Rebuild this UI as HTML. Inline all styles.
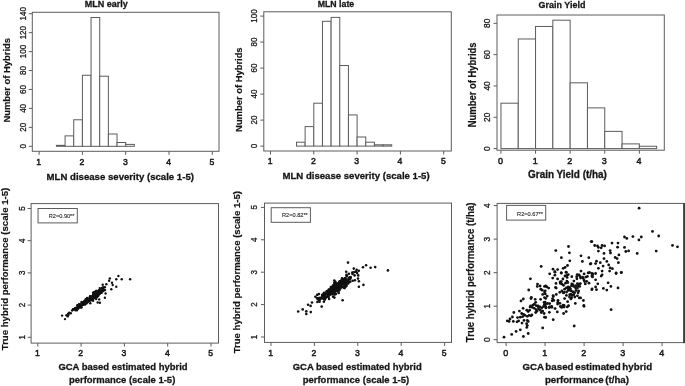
<!DOCTYPE html>
<html><head><meta charset="utf-8"><style>
html,body{margin:0;padding:0;background:#fff;}
svg{display:block;font-family:"Liberation Sans",sans-serif;filter:blur(0.3px);}
</style></head><body>
<svg width="685" height="386" viewBox="0 0 685 386">
<rect width="685" height="386" fill="#fff"/>
<rect x="32.30" y="12.30" width="186.70" height="139.00" fill="none" stroke="#5c5c5c" stroke-width="1"/>
<line x1="39.10" y1="151.30" x2="39.10" y2="154.80" stroke="#5c5c5c" stroke-width="1"/>
<text x="38.70" y="164.94" font-size="9.6" font-weight="normal" text-anchor="middle" fill="#161616" textLength="4.80" lengthAdjust="spacingAndGlyphs" stroke="#161616" stroke-width="0.5">1</text>
<line x1="82.40" y1="151.30" x2="82.40" y2="154.80" stroke="#5c5c5c" stroke-width="1"/>
<text x="82.00" y="164.94" font-size="9.6" font-weight="normal" text-anchor="middle" fill="#161616" textLength="4.80" lengthAdjust="spacingAndGlyphs" stroke="#161616" stroke-width="0.5">2</text>
<line x1="125.70" y1="151.30" x2="125.70" y2="154.80" stroke="#5c5c5c" stroke-width="1"/>
<text x="125.30" y="164.94" font-size="9.6" font-weight="normal" text-anchor="middle" fill="#161616" textLength="4.80" lengthAdjust="spacingAndGlyphs" stroke="#161616" stroke-width="0.5">3</text>
<line x1="169.00" y1="151.30" x2="169.00" y2="154.80" stroke="#5c5c5c" stroke-width="1"/>
<text x="168.60" y="164.94" font-size="9.6" font-weight="normal" text-anchor="middle" fill="#161616" textLength="4.80" lengthAdjust="spacingAndGlyphs" stroke="#161616" stroke-width="0.5">4</text>
<line x1="212.30" y1="151.30" x2="212.30" y2="154.80" stroke="#5c5c5c" stroke-width="1"/>
<text x="211.90" y="164.94" font-size="9.6" font-weight="normal" text-anchor="middle" fill="#161616" textLength="4.80" lengthAdjust="spacingAndGlyphs" stroke="#161616" stroke-width="0.5">5</text>
<line x1="28.80" y1="146.30" x2="32.30" y2="146.30" stroke="#5c5c5c" stroke-width="1"/>
<text x="0" y="3.26" font-size="9.1" font-weight="normal" text-anchor="middle" fill="#161616" textLength="4.45" lengthAdjust="spacingAndGlyphs" stroke="#161616" stroke-width="0.3" transform="translate(22.50 146.30) rotate(-90)">0</text>
<line x1="28.80" y1="127.36" x2="32.30" y2="127.36" stroke="#5c5c5c" stroke-width="1"/>
<text x="0" y="3.26" font-size="9.1" font-weight="normal" text-anchor="middle" fill="#161616" textLength="8.90" lengthAdjust="spacingAndGlyphs" stroke="#161616" stroke-width="0.3" transform="translate(22.50 127.36) rotate(-90)">20</text>
<line x1="28.80" y1="108.42" x2="32.30" y2="108.42" stroke="#5c5c5c" stroke-width="1"/>
<text x="0" y="3.26" font-size="9.1" font-weight="normal" text-anchor="middle" fill="#161616" textLength="8.90" lengthAdjust="spacingAndGlyphs" stroke="#161616" stroke-width="0.3" transform="translate(22.50 108.42) rotate(-90)">40</text>
<line x1="28.80" y1="89.48" x2="32.30" y2="89.48" stroke="#5c5c5c" stroke-width="1"/>
<text x="0" y="3.26" font-size="9.1" font-weight="normal" text-anchor="middle" fill="#161616" textLength="8.90" lengthAdjust="spacingAndGlyphs" stroke="#161616" stroke-width="0.3" transform="translate(22.50 89.48) rotate(-90)">60</text>
<line x1="28.80" y1="70.54" x2="32.30" y2="70.54" stroke="#5c5c5c" stroke-width="1"/>
<text x="0" y="3.26" font-size="9.1" font-weight="normal" text-anchor="middle" fill="#161616" textLength="8.90" lengthAdjust="spacingAndGlyphs" stroke="#161616" stroke-width="0.3" transform="translate(22.50 70.54) rotate(-90)">80</text>
<line x1="28.80" y1="51.60" x2="32.30" y2="51.60" stroke="#5c5c5c" stroke-width="1"/>
<text x="0" y="3.26" font-size="9.1" font-weight="normal" text-anchor="middle" fill="#161616" textLength="13.36" lengthAdjust="spacingAndGlyphs" stroke="#161616" stroke-width="0.3" transform="translate(22.50 51.60) rotate(-90)">100</text>
<line x1="28.80" y1="32.66" x2="32.30" y2="32.66" stroke="#5c5c5c" stroke-width="1"/>
<text x="0" y="3.26" font-size="9.1" font-weight="normal" text-anchor="middle" fill="#161616" textLength="13.36" lengthAdjust="spacingAndGlyphs" stroke="#161616" stroke-width="0.3" transform="translate(22.50 32.66) rotate(-90)">120</text>
<line x1="28.80" y1="13.72" x2="32.30" y2="13.72" stroke="#5c5c5c" stroke-width="1"/>
<text x="0" y="3.26" font-size="9.1" font-weight="normal" text-anchor="middle" fill="#161616" textLength="13.36" lengthAdjust="spacingAndGlyphs" stroke="#161616" stroke-width="0.3" transform="translate(22.50 13.72) rotate(-90)">140</text>
<rect x="56.42" y="145.35" width="8.66" height="0.95" fill="#fff" stroke="#5c5c5c" stroke-width="1"/>
<rect x="65.08" y="135.88" width="8.66" height="10.42" fill="#fff" stroke="#5c5c5c" stroke-width="1"/>
<rect x="73.74" y="119.78" width="8.66" height="26.52" fill="#fff" stroke="#5c5c5c" stroke-width="1"/>
<rect x="82.40" y="75.28" width="8.66" height="71.02" fill="#fff" stroke="#5c5c5c" stroke-width="1"/>
<rect x="91.06" y="17.51" width="8.66" height="128.79" fill="#fff" stroke="#5c5c5c" stroke-width="1"/>
<rect x="99.72" y="76.22" width="8.66" height="70.08" fill="#fff" stroke="#5c5c5c" stroke-width="1"/>
<rect x="108.38" y="133.99" width="8.66" height="12.31" fill="#fff" stroke="#5c5c5c" stroke-width="1"/>
<rect x="117.04" y="142.51" width="8.66" height="3.79" fill="#fff" stroke="#5c5c5c" stroke-width="1"/>
<rect x="125.70" y="144.41" width="8.66" height="1.89" fill="#fff" stroke="#5c5c5c" stroke-width="1"/>
<text x="106.35" y="7.12" font-size="9.555" font-weight="bold" text-anchor="middle" fill="#161616" textLength="43.10" lengthAdjust="spacingAndGlyphs" stroke="#161616" stroke-width="0.3">MLN early</text>
<text x="120.25" y="179.57" font-size="9.975" font-weight="bold" text-anchor="middle" fill="#161616" textLength="147.40" lengthAdjust="spacingAndGlyphs" stroke="#161616" stroke-width="0.3">MLN disease severity (scale 1-5)</text>
<text x="0" y="3.40" font-size="9.5" font-weight="bold" text-anchor="middle" fill="#161616" textLength="84.60" lengthAdjust="spacingAndGlyphs" stroke="#161616" stroke-width="0.2" transform="translate(6.90 80.30) rotate(-90)">Number of Hybrids</text>
<rect x="263.80" y="11.80" width="187.50" height="139.20" fill="none" stroke="#5c5c5c" stroke-width="1"/>
<line x1="270.50" y1="151.00" x2="270.50" y2="154.50" stroke="#5c5c5c" stroke-width="1"/>
<text x="270.10" y="164.44" font-size="9.6" font-weight="normal" text-anchor="middle" fill="#161616" textLength="4.80" lengthAdjust="spacingAndGlyphs" stroke="#161616" stroke-width="0.5">1</text>
<line x1="313.80" y1="151.00" x2="313.80" y2="154.50" stroke="#5c5c5c" stroke-width="1"/>
<text x="313.40" y="164.44" font-size="9.6" font-weight="normal" text-anchor="middle" fill="#161616" textLength="4.80" lengthAdjust="spacingAndGlyphs" stroke="#161616" stroke-width="0.5">2</text>
<line x1="357.10" y1="151.00" x2="357.10" y2="154.50" stroke="#5c5c5c" stroke-width="1"/>
<text x="356.70" y="164.44" font-size="9.6" font-weight="normal" text-anchor="middle" fill="#161616" textLength="4.80" lengthAdjust="spacingAndGlyphs" stroke="#161616" stroke-width="0.5">3</text>
<line x1="400.40" y1="151.00" x2="400.40" y2="154.50" stroke="#5c5c5c" stroke-width="1"/>
<text x="400.00" y="164.44" font-size="9.6" font-weight="normal" text-anchor="middle" fill="#161616" textLength="4.80" lengthAdjust="spacingAndGlyphs" stroke="#161616" stroke-width="0.5">4</text>
<line x1="443.70" y1="151.00" x2="443.70" y2="154.50" stroke="#5c5c5c" stroke-width="1"/>
<text x="443.30" y="164.44" font-size="9.6" font-weight="normal" text-anchor="middle" fill="#161616" textLength="4.80" lengthAdjust="spacingAndGlyphs" stroke="#161616" stroke-width="0.5">5</text>
<line x1="260.30" y1="146.10" x2="263.80" y2="146.10" stroke="#5c5c5c" stroke-width="1"/>
<text x="0" y="3.26" font-size="9.1" font-weight="normal" text-anchor="middle" fill="#161616" textLength="4.45" lengthAdjust="spacingAndGlyphs" stroke="#161616" stroke-width="0.3" transform="translate(253.30 146.10) rotate(-90)">0</text>
<line x1="260.30" y1="120.10" x2="263.80" y2="120.10" stroke="#5c5c5c" stroke-width="1"/>
<text x="0" y="3.26" font-size="9.1" font-weight="normal" text-anchor="middle" fill="#161616" textLength="8.90" lengthAdjust="spacingAndGlyphs" stroke="#161616" stroke-width="0.3" transform="translate(253.30 120.10) rotate(-90)">20</text>
<line x1="260.30" y1="94.10" x2="263.80" y2="94.10" stroke="#5c5c5c" stroke-width="1"/>
<text x="0" y="3.26" font-size="9.1" font-weight="normal" text-anchor="middle" fill="#161616" textLength="8.90" lengthAdjust="spacingAndGlyphs" stroke="#161616" stroke-width="0.3" transform="translate(253.30 94.10) rotate(-90)">40</text>
<line x1="260.30" y1="68.10" x2="263.80" y2="68.10" stroke="#5c5c5c" stroke-width="1"/>
<text x="0" y="3.26" font-size="9.1" font-weight="normal" text-anchor="middle" fill="#161616" textLength="8.90" lengthAdjust="spacingAndGlyphs" stroke="#161616" stroke-width="0.3" transform="translate(253.30 68.10) rotate(-90)">60</text>
<line x1="260.30" y1="42.10" x2="263.80" y2="42.10" stroke="#5c5c5c" stroke-width="1"/>
<text x="0" y="3.26" font-size="9.1" font-weight="normal" text-anchor="middle" fill="#161616" textLength="8.90" lengthAdjust="spacingAndGlyphs" stroke="#161616" stroke-width="0.3" transform="translate(253.30 42.10) rotate(-90)">80</text>
<line x1="260.30" y1="16.10" x2="263.80" y2="16.10" stroke="#5c5c5c" stroke-width="1"/>
<text x="0" y="3.26" font-size="9.1" font-weight="normal" text-anchor="middle" fill="#161616" textLength="13.36" lengthAdjust="spacingAndGlyphs" stroke="#161616" stroke-width="0.3" transform="translate(253.30 16.10) rotate(-90)">100</text>
<rect x="296.48" y="142.20" width="8.66" height="3.90" fill="#fff" stroke="#5c5c5c" stroke-width="1"/>
<rect x="305.14" y="126.60" width="8.66" height="19.50" fill="#fff" stroke="#5c5c5c" stroke-width="1"/>
<rect x="313.80" y="103.20" width="8.66" height="42.90" fill="#fff" stroke="#5c5c5c" stroke-width="1"/>
<rect x="322.46" y="21.30" width="8.66" height="124.80" fill="#fff" stroke="#5c5c5c" stroke-width="1"/>
<rect x="331.12" y="17.40" width="8.66" height="128.70" fill="#fff" stroke="#5c5c5c" stroke-width="1"/>
<rect x="339.78" y="65.50" width="8.66" height="80.60" fill="#fff" stroke="#5c5c5c" stroke-width="1"/>
<rect x="348.44" y="114.90" width="8.66" height="31.20" fill="#fff" stroke="#5c5c5c" stroke-width="1"/>
<rect x="357.10" y="137.00" width="8.66" height="9.10" fill="#fff" stroke="#5c5c5c" stroke-width="1"/>
<rect x="365.76" y="142.20" width="8.66" height="3.90" fill="#fff" stroke="#5c5c5c" stroke-width="1"/>
<rect x="374.42" y="144.80" width="8.66" height="1.30" fill="#fff" stroke="#5c5c5c" stroke-width="1"/>
<rect x="383.08" y="144.80" width="8.66" height="1.30" fill="#fff" stroke="#5c5c5c" stroke-width="1"/>
<text x="335.95" y="7.42" font-size="9.555" font-weight="bold" text-anchor="middle" fill="#161616" textLength="36.50" lengthAdjust="spacingAndGlyphs" stroke="#161616" stroke-width="0.3">MLN late</text>
<text x="356.05" y="178.87" font-size="9.975" font-weight="bold" text-anchor="middle" fill="#161616" textLength="147.10" lengthAdjust="spacingAndGlyphs" stroke="#161616" stroke-width="0.3">MLN disease severity (scale 1-5)</text>
<text x="0" y="3.40" font-size="9.5" font-weight="bold" text-anchor="middle" fill="#161616" textLength="84.50" lengthAdjust="spacingAndGlyphs" stroke="#161616" stroke-width="0.2" transform="translate(238.90 89.65) rotate(-90)">Number of Hybrids</text>
<rect x="497.00" y="15.00" width="167.30" height="135.20" fill="none" stroke="#5c5c5c" stroke-width="1"/>
<line x1="500.95" y1="150.20" x2="500.95" y2="153.70" stroke="#5c5c5c" stroke-width="1"/>
<text x="500.55" y="163.97" font-size="9.984" font-weight="normal" text-anchor="middle" fill="#161616" textLength="5.00" lengthAdjust="spacingAndGlyphs" stroke="#161616" stroke-width="0.5">0</text>
<line x1="535.55" y1="150.20" x2="535.55" y2="153.70" stroke="#5c5c5c" stroke-width="1"/>
<text x="535.15" y="163.97" font-size="9.984" font-weight="normal" text-anchor="middle" fill="#161616" textLength="5.00" lengthAdjust="spacingAndGlyphs" stroke="#161616" stroke-width="0.5">1</text>
<line x1="570.15" y1="150.20" x2="570.15" y2="153.70" stroke="#5c5c5c" stroke-width="1"/>
<text x="569.75" y="163.97" font-size="9.984" font-weight="normal" text-anchor="middle" fill="#161616" textLength="5.00" lengthAdjust="spacingAndGlyphs" stroke="#161616" stroke-width="0.5">2</text>
<line x1="604.75" y1="150.20" x2="604.75" y2="153.70" stroke="#5c5c5c" stroke-width="1"/>
<text x="604.35" y="163.97" font-size="9.984" font-weight="normal" text-anchor="middle" fill="#161616" textLength="5.00" lengthAdjust="spacingAndGlyphs" stroke="#161616" stroke-width="0.5">3</text>
<line x1="639.35" y1="150.20" x2="639.35" y2="153.70" stroke="#5c5c5c" stroke-width="1"/>
<text x="638.95" y="163.97" font-size="9.984" font-weight="normal" text-anchor="middle" fill="#161616" textLength="5.00" lengthAdjust="spacingAndGlyphs" stroke="#161616" stroke-width="0.5">4</text>
<line x1="493.50" y1="148.60" x2="497.00" y2="148.60" stroke="#5c5c5c" stroke-width="1"/>
<text x="0" y="3.39" font-size="9.464" font-weight="normal" text-anchor="middle" fill="#161616" textLength="4.63" lengthAdjust="spacingAndGlyphs" stroke="#161616" stroke-width="0.3" transform="translate(486.70 148.60) rotate(-90)">0</text>
<line x1="493.50" y1="117.28" x2="497.00" y2="117.28" stroke="#5c5c5c" stroke-width="1"/>
<text x="0" y="3.39" font-size="9.464" font-weight="normal" text-anchor="middle" fill="#161616" textLength="9.26" lengthAdjust="spacingAndGlyphs" stroke="#161616" stroke-width="0.3" transform="translate(486.70 117.28) rotate(-90)">20</text>
<line x1="493.50" y1="85.96" x2="497.00" y2="85.96" stroke="#5c5c5c" stroke-width="1"/>
<text x="0" y="3.39" font-size="9.464" font-weight="normal" text-anchor="middle" fill="#161616" textLength="9.26" lengthAdjust="spacingAndGlyphs" stroke="#161616" stroke-width="0.3" transform="translate(486.70 85.96) rotate(-90)">40</text>
<line x1="493.50" y1="54.64" x2="497.00" y2="54.64" stroke="#5c5c5c" stroke-width="1"/>
<text x="0" y="3.39" font-size="9.464" font-weight="normal" text-anchor="middle" fill="#161616" textLength="9.26" lengthAdjust="spacingAndGlyphs" stroke="#161616" stroke-width="0.3" transform="translate(486.70 54.64) rotate(-90)">60</text>
<line x1="493.50" y1="23.32" x2="497.00" y2="23.32" stroke="#5c5c5c" stroke-width="1"/>
<text x="0" y="3.39" font-size="9.464" font-weight="normal" text-anchor="middle" fill="#161616" textLength="9.26" lengthAdjust="spacingAndGlyphs" stroke="#161616" stroke-width="0.3" transform="translate(486.70 23.32) rotate(-90)">80</text>
<rect x="500.95" y="103.19" width="17.30" height="45.41" fill="#fff" stroke="#5c5c5c" stroke-width="1"/>
<rect x="518.25" y="38.98" width="17.30" height="109.62" fill="#fff" stroke="#5c5c5c" stroke-width="1"/>
<rect x="535.55" y="26.45" width="17.30" height="122.15" fill="#fff" stroke="#5c5c5c" stroke-width="1"/>
<rect x="552.85" y="20.19" width="17.30" height="128.41" fill="#fff" stroke="#5c5c5c" stroke-width="1"/>
<rect x="570.15" y="82.83" width="17.30" height="65.77" fill="#fff" stroke="#5c5c5c" stroke-width="1"/>
<rect x="587.45" y="107.88" width="17.30" height="40.72" fill="#fff" stroke="#5c5c5c" stroke-width="1"/>
<rect x="604.75" y="131.37" width="17.30" height="17.23" fill="#fff" stroke="#5c5c5c" stroke-width="1"/>
<rect x="622.05" y="143.90" width="17.30" height="4.70" fill="#fff" stroke="#5c5c5c" stroke-width="1"/>
<rect x="639.35" y="146.25" width="17.30" height="2.35" fill="#fff" stroke="#5c5c5c" stroke-width="1"/>
<text x="562.05" y="8.13" font-size="9.870000000000001" font-weight="bold" text-anchor="middle" fill="#161616" textLength="46.90" lengthAdjust="spacingAndGlyphs" stroke="#161616" stroke-width="0.3">Grain Yield</text>
<text x="567.50" y="177.92" font-size="10.395000000000001" font-weight="bold" text-anchor="middle" fill="#161616" textLength="78.80" lengthAdjust="spacingAndGlyphs" stroke="#161616" stroke-width="0.3">Grain Yield (t/ha)</text>
<text x="0" y="3.72" font-size="10.4" font-weight="bold" text-anchor="middle" fill="#161616" textLength="84.80" lengthAdjust="spacingAndGlyphs" stroke="#161616" stroke-width="0.2" transform="translate(472.00 84.80) rotate(-90)">Number of Hybrids</text>
<rect x="31.10" y="203.60" width="187.40" height="139.50" fill="none" stroke="#5c5c5c" stroke-width="1"/>
<line x1="37.80" y1="343.10" x2="37.80" y2="346.60" stroke="#5c5c5c" stroke-width="1"/>
<text x="37.40" y="356.44" font-size="9.6" font-weight="normal" text-anchor="middle" fill="#161616" textLength="4.80" lengthAdjust="spacingAndGlyphs" stroke="#161616" stroke-width="0.5">1</text>
<line x1="81.10" y1="343.10" x2="81.10" y2="346.60" stroke="#5c5c5c" stroke-width="1"/>
<text x="80.70" y="356.44" font-size="9.6" font-weight="normal" text-anchor="middle" fill="#161616" textLength="4.80" lengthAdjust="spacingAndGlyphs" stroke="#161616" stroke-width="0.5">2</text>
<line x1="124.40" y1="343.10" x2="124.40" y2="346.60" stroke="#5c5c5c" stroke-width="1"/>
<text x="124.00" y="356.44" font-size="9.6" font-weight="normal" text-anchor="middle" fill="#161616" textLength="4.80" lengthAdjust="spacingAndGlyphs" stroke="#161616" stroke-width="0.5">3</text>
<line x1="167.70" y1="343.10" x2="167.70" y2="346.60" stroke="#5c5c5c" stroke-width="1"/>
<text x="167.30" y="356.44" font-size="9.6" font-weight="normal" text-anchor="middle" fill="#161616" textLength="4.80" lengthAdjust="spacingAndGlyphs" stroke="#161616" stroke-width="0.5">4</text>
<line x1="211.00" y1="343.10" x2="211.00" y2="346.60" stroke="#5c5c5c" stroke-width="1"/>
<text x="210.60" y="356.44" font-size="9.6" font-weight="normal" text-anchor="middle" fill="#161616" textLength="4.80" lengthAdjust="spacingAndGlyphs" stroke="#161616" stroke-width="0.5">5</text>
<line x1="27.60" y1="337.30" x2="31.10" y2="337.30" stroke="#5c5c5c" stroke-width="1"/>
<text x="0" y="3.26" font-size="9.1" font-weight="normal" text-anchor="middle" fill="#161616" textLength="4.45" lengthAdjust="spacingAndGlyphs" stroke="#161616" stroke-width="0.3" transform="translate(21.30 337.30) rotate(-90)">1</text>
<line x1="27.60" y1="305.10" x2="31.10" y2="305.10" stroke="#5c5c5c" stroke-width="1"/>
<text x="0" y="3.26" font-size="9.1" font-weight="normal" text-anchor="middle" fill="#161616" textLength="4.45" lengthAdjust="spacingAndGlyphs" stroke="#161616" stroke-width="0.3" transform="translate(21.30 305.10) rotate(-90)">2</text>
<line x1="27.60" y1="272.90" x2="31.10" y2="272.90" stroke="#5c5c5c" stroke-width="1"/>
<text x="0" y="3.26" font-size="9.1" font-weight="normal" text-anchor="middle" fill="#161616" textLength="4.45" lengthAdjust="spacingAndGlyphs" stroke="#161616" stroke-width="0.3" transform="translate(21.30 272.90) rotate(-90)">3</text>
<line x1="27.60" y1="240.70" x2="31.10" y2="240.70" stroke="#5c5c5c" stroke-width="1"/>
<text x="0" y="3.26" font-size="9.1" font-weight="normal" text-anchor="middle" fill="#161616" textLength="4.45" lengthAdjust="spacingAndGlyphs" stroke="#161616" stroke-width="0.3" transform="translate(21.30 240.70) rotate(-90)">4</text>
<line x1="27.60" y1="208.50" x2="31.10" y2="208.50" stroke="#5c5c5c" stroke-width="1"/>
<text x="0" y="3.26" font-size="9.1" font-weight="normal" text-anchor="middle" fill="#161616" textLength="4.45" lengthAdjust="spacingAndGlyphs" stroke="#161616" stroke-width="0.3" transform="translate(21.30 208.50) rotate(-90)">5</text>
<clipPath id="c1"><rect x="31.1" y="203.6" width="187.4" height="139.50000000000003"/></clipPath><g clip-path="url(#c1)" fill="#111">
<circle cx="78.1" cy="307.7" r="1.2"/>
<circle cx="97.0" cy="293.3" r="1.2"/>
<circle cx="77.2" cy="307.7" r="1.2"/>
<circle cx="92.6" cy="298.6" r="1.2"/>
<circle cx="78.2" cy="305.3" r="1.2"/>
<circle cx="94.5" cy="296.4" r="1.2"/>
<circle cx="101.5" cy="292.1" r="1.2"/>
<circle cx="87.6" cy="300.1" r="1.2"/>
<circle cx="86.0" cy="300.5" r="1.2"/>
<circle cx="78.8" cy="306.8" r="1.2"/>
<circle cx="89.7" cy="298.6" r="1.2"/>
<circle cx="88.0" cy="300.7" r="1.2"/>
<circle cx="94.4" cy="297.3" r="1.2"/>
<circle cx="90.3" cy="296.1" r="1.2"/>
<circle cx="94.5" cy="293.7" r="1.2"/>
<circle cx="87.0" cy="298.9" r="1.2"/>
<circle cx="88.5" cy="298.8" r="1.2"/>
<circle cx="90.3" cy="303.2" r="1.2"/>
<circle cx="88.1" cy="301.4" r="1.2"/>
<circle cx="77.3" cy="307.4" r="1.2"/>
<circle cx="94.1" cy="295.8" r="1.2"/>
<circle cx="91.6" cy="297.8" r="1.2"/>
<circle cx="79.9" cy="306.7" r="1.2"/>
<circle cx="81.6" cy="307.4" r="1.2"/>
<circle cx="84.2" cy="303.9" r="1.2"/>
<circle cx="88.5" cy="301.2" r="1.2"/>
<circle cx="83.4" cy="304.9" r="1.2"/>
<circle cx="87.4" cy="302.4" r="1.2"/>
<circle cx="93.8" cy="296.4" r="1.2"/>
<circle cx="81.9" cy="305.6" r="1.2"/>
<circle cx="92.5" cy="299.4" r="1.2"/>
<circle cx="85.3" cy="302.9" r="1.2"/>
<circle cx="92.8" cy="297.3" r="1.2"/>
<circle cx="90.3" cy="298.9" r="1.2"/>
<circle cx="83.4" cy="302.0" r="1.2"/>
<circle cx="85.1" cy="303.1" r="1.2"/>
<circle cx="101.3" cy="292.3" r="1.2"/>
<circle cx="97.5" cy="294.7" r="1.2"/>
<circle cx="94.4" cy="296.0" r="1.2"/>
<circle cx="95.1" cy="297.8" r="1.2"/>
<circle cx="85.7" cy="300.9" r="1.2"/>
<circle cx="90.6" cy="299.8" r="1.2"/>
<circle cx="95.9" cy="293.1" r="1.2"/>
<circle cx="103.6" cy="289.6" r="1.2"/>
<circle cx="94.9" cy="295.6" r="1.2"/>
<circle cx="81.0" cy="305.0" r="1.2"/>
<circle cx="91.7" cy="299.2" r="1.2"/>
<circle cx="94.5" cy="295.8" r="1.2"/>
<circle cx="100.0" cy="290.8" r="1.2"/>
<circle cx="95.2" cy="296.7" r="1.2"/>
<circle cx="86.0" cy="299.1" r="1.2"/>
<circle cx="80.8" cy="305.6" r="1.2"/>
<circle cx="93.0" cy="298.9" r="1.2"/>
<circle cx="80.0" cy="305.9" r="1.2"/>
<circle cx="94.0" cy="295.8" r="1.2"/>
<circle cx="68.4" cy="315.1" r="1.2"/>
<circle cx="97.0" cy="292.6" r="1.2"/>
<circle cx="85.0" cy="302.7" r="1.2"/>
<circle cx="93.7" cy="296.4" r="1.2"/>
<circle cx="101.7" cy="290.5" r="1.2"/>
<circle cx="82.7" cy="303.3" r="1.2"/>
<circle cx="94.6" cy="297.6" r="1.2"/>
<circle cx="94.1" cy="296.4" r="1.2"/>
<circle cx="73.0" cy="309.7" r="1.2"/>
<circle cx="83.3" cy="302.8" r="1.2"/>
<circle cx="93.5" cy="295.9" r="1.2"/>
<circle cx="95.2" cy="295.3" r="1.2"/>
<circle cx="85.7" cy="302.0" r="1.2"/>
<circle cx="92.1" cy="298.6" r="1.2"/>
<circle cx="84.4" cy="302.4" r="1.2"/>
<circle cx="76.9" cy="310.3" r="1.2"/>
<circle cx="100.8" cy="291.0" r="1.2"/>
<circle cx="84.4" cy="301.0" r="1.2"/>
<circle cx="89.9" cy="299.2" r="1.2"/>
<circle cx="90.6" cy="297.3" r="1.2"/>
<circle cx="67.7" cy="316.4" r="1.2"/>
<circle cx="90.1" cy="296.5" r="1.2"/>
<circle cx="90.0" cy="296.6" r="1.2"/>
<circle cx="98.0" cy="294.0" r="1.2"/>
<circle cx="87.0" cy="297.9" r="1.2"/>
<circle cx="87.4" cy="298.5" r="1.2"/>
<circle cx="93.6" cy="293.4" r="1.2"/>
<circle cx="80.8" cy="307.0" r="1.2"/>
<circle cx="102.5" cy="288.5" r="1.2"/>
<circle cx="75.5" cy="310.3" r="1.2"/>
<circle cx="95.8" cy="293.4" r="1.2"/>
<circle cx="82.6" cy="303.1" r="1.2"/>
<circle cx="78.4" cy="306.0" r="1.2"/>
<circle cx="99.1" cy="293.4" r="1.2"/>
<circle cx="87.8" cy="300.2" r="1.2"/>
<circle cx="80.1" cy="305.6" r="1.2"/>
<circle cx="77.3" cy="305.2" r="1.2"/>
<circle cx="94.4" cy="297.8" r="1.2"/>
<circle cx="95.6" cy="296.8" r="1.2"/>
<circle cx="90.6" cy="297.4" r="1.2"/>
<circle cx="89.2" cy="298.9" r="1.2"/>
<circle cx="79.1" cy="304.1" r="1.2"/>
<circle cx="75.9" cy="308.7" r="1.2"/>
<circle cx="89.8" cy="298.3" r="1.2"/>
<circle cx="100.6" cy="291.6" r="1.2"/>
<circle cx="93.5" cy="298.1" r="1.2"/>
<circle cx="81.5" cy="302.0" r="1.2"/>
<circle cx="94.9" cy="294.5" r="1.2"/>
<circle cx="99.6" cy="292.6" r="1.2"/>
<circle cx="97.1" cy="295.0" r="1.2"/>
<circle cx="70.8" cy="313.3" r="1.2"/>
<circle cx="82.8" cy="302.8" r="1.2"/>
<circle cx="84.8" cy="303.6" r="1.2"/>
<circle cx="96.0" cy="296.1" r="1.2"/>
<circle cx="74.4" cy="308.9" r="1.2"/>
<circle cx="68.3" cy="313.9" r="1.2"/>
<circle cx="93.6" cy="295.3" r="1.2"/>
<circle cx="90.6" cy="298.8" r="1.2"/>
<circle cx="97.1" cy="292.8" r="1.2"/>
<circle cx="81.5" cy="303.8" r="1.2"/>
<circle cx="103.4" cy="291.0" r="1.2"/>
<circle cx="87.4" cy="301.0" r="1.2"/>
<circle cx="89.5" cy="299.5" r="1.2"/>
<circle cx="86.7" cy="300.7" r="1.2"/>
<circle cx="77.8" cy="306.5" r="1.2"/>
<circle cx="102.5" cy="290.8" r="1.2"/>
<circle cx="89.1" cy="299.2" r="1.2"/>
<circle cx="89.0" cy="300.0" r="1.2"/>
<circle cx="83.0" cy="304.0" r="1.2"/>
<circle cx="90.5" cy="297.4" r="1.2"/>
<circle cx="81.8" cy="303.2" r="1.2"/>
<circle cx="79.5" cy="307.5" r="1.2"/>
<circle cx="68.4" cy="313.6" r="1.2"/>
<circle cx="83.3" cy="302.7" r="1.2"/>
<circle cx="89.3" cy="300.9" r="1.2"/>
<circle cx="89.1" cy="299.2" r="1.2"/>
<circle cx="83.3" cy="303.4" r="1.2"/>
<circle cx="96.3" cy="293.9" r="1.2"/>
<circle cx="78.8" cy="305.0" r="1.2"/>
<circle cx="79.1" cy="304.5" r="1.2"/>
<circle cx="97.8" cy="293.9" r="1.2"/>
<circle cx="86.5" cy="303.4" r="1.2"/>
<circle cx="82.9" cy="304.9" r="1.2"/>
<circle cx="95.3" cy="293.0" r="1.2"/>
<circle cx="75.3" cy="307.9" r="1.2"/>
<circle cx="96.2" cy="296.3" r="1.2"/>
<circle cx="78.1" cy="308.7" r="1.2"/>
<circle cx="85.2" cy="301.6" r="1.2"/>
<circle cx="83.8" cy="302.7" r="1.2"/>
<circle cx="73.0" cy="309.3" r="1.2"/>
<circle cx="78.0" cy="307.9" r="1.2"/>
<circle cx="85.6" cy="299.5" r="1.2"/>
<circle cx="85.0" cy="301.0" r="1.2"/>
<circle cx="93.4" cy="295.5" r="1.2"/>
<circle cx="96.5" cy="295.1" r="1.2"/>
<circle cx="74.7" cy="308.8" r="1.2"/>
<circle cx="86.5" cy="301.4" r="1.2"/>
<circle cx="89.6" cy="298.6" r="1.2"/>
<circle cx="90.1" cy="297.9" r="1.2"/>
<circle cx="80.9" cy="307.4" r="1.2"/>
<circle cx="91.6" cy="298.4" r="1.2"/>
<circle cx="74.9" cy="309.2" r="1.2"/>
<circle cx="95.5" cy="293.2" r="1.2"/>
<circle cx="97.8" cy="292.8" r="1.2"/>
<circle cx="91.9" cy="297.3" r="1.2"/>
<circle cx="90.4" cy="300.3" r="1.2"/>
<circle cx="85.1" cy="304.5" r="1.2"/>
<circle cx="81.9" cy="303.2" r="1.2"/>
<circle cx="94.5" cy="294.2" r="1.2"/>
<circle cx="85.4" cy="303.4" r="1.2"/>
<circle cx="98.8" cy="290.2" r="1.2"/>
<circle cx="92.8" cy="299.5" r="1.2"/>
<circle cx="98.7" cy="292.5" r="1.2"/>
<circle cx="83.4" cy="303.1" r="1.2"/>
<circle cx="78.7" cy="306.4" r="1.2"/>
<circle cx="95.8" cy="294.5" r="1.2"/>
<circle cx="101.0" cy="290.7" r="1.2"/>
<circle cx="91.0" cy="300.3" r="1.2"/>
<circle cx="92.4" cy="296.3" r="1.2"/>
<circle cx="96.0" cy="294.0" r="1.2"/>
<circle cx="92.7" cy="296.5" r="1.2"/>
<circle cx="104.8" cy="287.3" r="1.2"/>
<circle cx="96.0" cy="296.9" r="1.2"/>
<circle cx="99.3" cy="293.8" r="1.2"/>
<circle cx="99.8" cy="288.1" r="1.2"/>
<circle cx="93.2" cy="296.9" r="1.2"/>
<circle cx="98.4" cy="295.6" r="1.2"/>
<circle cx="98.3" cy="292.6" r="1.2"/>
<circle cx="96.6" cy="293.8" r="1.2"/>
<circle cx="97.4" cy="295.0" r="1.2"/>
<circle cx="95.2" cy="293.6" r="1.2"/>
<circle cx="93.3" cy="298.8" r="1.2"/>
<circle cx="101.4" cy="292.9" r="1.2"/>
<circle cx="99.8" cy="293.7" r="1.2"/>
<circle cx="96.5" cy="295.6" r="1.2"/>
<circle cx="92.5" cy="296.7" r="1.2"/>
<circle cx="93.7" cy="297.7" r="1.2"/>
<circle cx="94.3" cy="295.6" r="1.2"/>
<circle cx="98.0" cy="295.9" r="1.2"/>
<circle cx="93.5" cy="294.5" r="1.2"/>
<circle cx="99.6" cy="289.9" r="1.2"/>
<circle cx="98.2" cy="292.0" r="1.2"/>
<circle cx="96.1" cy="290.9" r="1.2"/>
<circle cx="99.2" cy="291.4" r="1.2"/>
<circle cx="93.1" cy="300.8" r="1.2"/>
<circle cx="99.2" cy="299.4" r="1.2"/>
<circle cx="98.0" cy="292.5" r="1.2"/>
<circle cx="96.9" cy="297.2" r="1.2"/>
<circle cx="96.4" cy="295.3" r="1.2"/>
<circle cx="98.5" cy="291.1" r="1.2"/>
<circle cx="97.0" cy="293.0" r="1.2"/>
<circle cx="91.8" cy="299.4" r="1.2"/>
<circle cx="99.0" cy="292.7" r="1.2"/>
<circle cx="93.1" cy="292.7" r="1.2"/>
<circle cx="98.3" cy="292.8" r="1.2"/>
<circle cx="90.1" cy="298.7" r="1.2"/>
<circle cx="90.7" cy="298.3" r="1.2"/>
<circle cx="97.0" cy="294.6" r="1.2"/>
<circle cx="97.3" cy="294.1" r="1.2"/>
<circle cx="92.2" cy="296.6" r="1.2"/>
<circle cx="94.6" cy="295.2" r="1.2"/>
<circle cx="97.5" cy="294.8" r="1.2"/>
<circle cx="102.7" cy="284.8" r="1.2"/>
<circle cx="98.0" cy="292.8" r="1.2"/>
<circle cx="105.1" cy="290.1" r="1.2"/>
<circle cx="90.2" cy="299.5" r="1.2"/>
<circle cx="94.5" cy="297.7" r="1.2"/>
<circle cx="92.5" cy="296.9" r="1.2"/>
<circle cx="96.0" cy="294.5" r="1.2"/>
<circle cx="94.3" cy="292.2" r="1.2"/>
<circle cx="98.2" cy="295.1" r="1.2"/>
<circle cx="96.2" cy="292.4" r="1.2"/>
<circle cx="97.3" cy="294.9" r="1.2"/>
<circle cx="95.8" cy="294.7" r="1.2"/>
<circle cx="101.9" cy="288.3" r="1.2"/>
<circle cx="94.4" cy="292.0" r="1.2"/>
<circle cx="93.8" cy="294.7" r="1.2"/>
<circle cx="92.9" cy="295.5" r="1.2"/>
<circle cx="103.3" cy="289.1" r="1.2"/>
<circle cx="96.1" cy="299.0" r="1.2"/>
<circle cx="96.3" cy="291.0" r="1.2"/>
<circle cx="98.0" cy="291.4" r="1.2"/>
<circle cx="102.7" cy="287.4" r="1.2"/>
<circle cx="94.3" cy="292.6" r="1.2"/>
<circle cx="96.9" cy="292.0" r="1.2"/>
<circle cx="62.1" cy="315.6" r="1.2"/>
<circle cx="65.0" cy="319.1" r="1.2"/>
<circle cx="66.4" cy="315.3" r="1.2"/>
<circle cx="109.8" cy="278.5" r="1.2"/>
<circle cx="118.4" cy="276.0" r="1.2"/>
<circle cx="121.7" cy="279.3" r="1.2"/>
<circle cx="130.1" cy="279.3" r="1.2"/>
<circle cx="116.3" cy="279.3" r="1.2"/>
<circle cx="112.0" cy="282.8" r="1.2"/>
<circle cx="112.7" cy="285.0" r="1.2"/>
<circle cx="116.3" cy="286.8" r="1.2"/>
<circle cx="111.3" cy="289.2" r="1.2"/>
<circle cx="105.6" cy="293.5" r="1.2"/>
<circle cx="104.9" cy="297.8" r="1.2"/>
<circle cx="97.7" cy="302.5" r="1.2"/>
<circle cx="99.9" cy="302.8" r="1.2"/>
<circle cx="109.1" cy="280.7" r="1.2"/>
<circle cx="106.3" cy="284.2" r="1.2"/>
<circle cx="104.1" cy="287.1" r="1.2"/>
<circle cx="69.2" cy="312.7" r="1.2"/>
<circle cx="72.1" cy="310.6" r="1.2"/>
</g>
<rect x="38.05" y="208.50" width="39.25" height="14.40" fill="#fff" stroke="#5c5c5c" stroke-width="1"/>
<text x="61.65" y="218.20" font-size="5.6" font-weight="normal" text-anchor="middle" fill="#2a2a2a" textLength="25.70" lengthAdjust="spacingAndGlyphs" stroke="#2a2a2a" stroke-width="0.12">R2=0.90**</text>
<text x="123.00" y="370.07" font-size="9.975" font-weight="bold" text-anchor="middle" fill="#161616" textLength="129.20" lengthAdjust="spacingAndGlyphs" stroke="#161616" stroke-width="0.3">GCA based estimated hybrid</text>
<text x="122.10" y="382.97" font-size="9.975" font-weight="bold" text-anchor="middle" fill="#161616" textLength="106.40" lengthAdjust="spacingAndGlyphs" stroke="#161616" stroke-width="0.3">performance (scale 1-5)</text>
<text x="0" y="3.40" font-size="9.5" font-weight="bold" text-anchor="middle" fill="#161616" textLength="162.40" lengthAdjust="spacingAndGlyphs" stroke="#161616" stroke-width="0.2" transform="translate(4.50 269.00) rotate(-90)">True hybrid performance (scale 1-5)</text>
<rect x="264.50" y="203.10" width="187.00" height="139.30" fill="none" stroke="#5c5c5c" stroke-width="1"/>
<line x1="271.00" y1="342.40" x2="271.00" y2="345.90" stroke="#5c5c5c" stroke-width="1"/>
<text x="270.60" y="356.04" font-size="9.6" font-weight="normal" text-anchor="middle" fill="#161616" textLength="4.80" lengthAdjust="spacingAndGlyphs" stroke="#161616" stroke-width="0.5">1</text>
<line x1="314.40" y1="342.40" x2="314.40" y2="345.90" stroke="#5c5c5c" stroke-width="1"/>
<text x="314.00" y="356.04" font-size="9.6" font-weight="normal" text-anchor="middle" fill="#161616" textLength="4.80" lengthAdjust="spacingAndGlyphs" stroke="#161616" stroke-width="0.5">2</text>
<line x1="357.80" y1="342.40" x2="357.80" y2="345.90" stroke="#5c5c5c" stroke-width="1"/>
<text x="357.40" y="356.04" font-size="9.6" font-weight="normal" text-anchor="middle" fill="#161616" textLength="4.80" lengthAdjust="spacingAndGlyphs" stroke="#161616" stroke-width="0.5">3</text>
<line x1="401.20" y1="342.40" x2="401.20" y2="345.90" stroke="#5c5c5c" stroke-width="1"/>
<text x="400.80" y="356.04" font-size="9.6" font-weight="normal" text-anchor="middle" fill="#161616" textLength="4.80" lengthAdjust="spacingAndGlyphs" stroke="#161616" stroke-width="0.5">4</text>
<line x1="444.60" y1="342.40" x2="444.60" y2="345.90" stroke="#5c5c5c" stroke-width="1"/>
<text x="444.20" y="356.04" font-size="9.6" font-weight="normal" text-anchor="middle" fill="#161616" textLength="4.80" lengthAdjust="spacingAndGlyphs" stroke="#161616" stroke-width="0.5">5</text>
<line x1="261.00" y1="337.00" x2="264.50" y2="337.00" stroke="#5c5c5c" stroke-width="1"/>
<text x="0" y="3.26" font-size="9.1" font-weight="normal" text-anchor="middle" fill="#161616" textLength="4.45" lengthAdjust="spacingAndGlyphs" stroke="#161616" stroke-width="0.3" transform="translate(253.30 337.00) rotate(-90)">1</text>
<line x1="261.00" y1="304.60" x2="264.50" y2="304.60" stroke="#5c5c5c" stroke-width="1"/>
<text x="0" y="3.26" font-size="9.1" font-weight="normal" text-anchor="middle" fill="#161616" textLength="4.45" lengthAdjust="spacingAndGlyphs" stroke="#161616" stroke-width="0.3" transform="translate(253.30 304.60) rotate(-90)">2</text>
<line x1="261.00" y1="272.20" x2="264.50" y2="272.20" stroke="#5c5c5c" stroke-width="1"/>
<text x="0" y="3.26" font-size="9.1" font-weight="normal" text-anchor="middle" fill="#161616" textLength="4.45" lengthAdjust="spacingAndGlyphs" stroke="#161616" stroke-width="0.3" transform="translate(253.30 272.20) rotate(-90)">3</text>
<line x1="261.00" y1="239.80" x2="264.50" y2="239.80" stroke="#5c5c5c" stroke-width="1"/>
<text x="0" y="3.26" font-size="9.1" font-weight="normal" text-anchor="middle" fill="#161616" textLength="4.45" lengthAdjust="spacingAndGlyphs" stroke="#161616" stroke-width="0.3" transform="translate(253.30 239.80) rotate(-90)">4</text>
<line x1="261.00" y1="207.40" x2="264.50" y2="207.40" stroke="#5c5c5c" stroke-width="1"/>
<text x="0" y="3.26" font-size="9.1" font-weight="normal" text-anchor="middle" fill="#161616" textLength="4.45" lengthAdjust="spacingAndGlyphs" stroke="#161616" stroke-width="0.3" transform="translate(253.30 207.40) rotate(-90)">5</text>
<clipPath id="c2"><rect x="264.5" y="203.1" width="187.0" height="139.29999999999998"/></clipPath><g clip-path="url(#c2)" fill="#111">
<circle cx="335.3" cy="287.2" r="1.3"/>
<circle cx="329.9" cy="294.3" r="1.3"/>
<circle cx="345.4" cy="281.7" r="1.3"/>
<circle cx="327.0" cy="291.2" r="1.3"/>
<circle cx="338.7" cy="293.0" r="1.3"/>
<circle cx="331.4" cy="288.8" r="1.3"/>
<circle cx="329.0" cy="289.7" r="1.3"/>
<circle cx="326.3" cy="293.8" r="1.3"/>
<circle cx="350.3" cy="278.2" r="1.3"/>
<circle cx="330.9" cy="287.0" r="1.3"/>
<circle cx="338.1" cy="286.3" r="1.3"/>
<circle cx="323.7" cy="293.5" r="1.3"/>
<circle cx="335.6" cy="290.9" r="1.3"/>
<circle cx="342.3" cy="284.2" r="1.3"/>
<circle cx="332.8" cy="290.8" r="1.3"/>
<circle cx="335.9" cy="294.0" r="1.3"/>
<circle cx="324.7" cy="294.5" r="1.3"/>
<circle cx="348.7" cy="278.4" r="1.3"/>
<circle cx="350.2" cy="278.1" r="1.3"/>
<circle cx="337.5" cy="285.8" r="1.3"/>
<circle cx="322.2" cy="294.8" r="1.3"/>
<circle cx="358.2" cy="275.4" r="1.3"/>
<circle cx="342.1" cy="286.7" r="1.3"/>
<circle cx="341.7" cy="287.1" r="1.3"/>
<circle cx="333.3" cy="289.0" r="1.3"/>
<circle cx="345.8" cy="280.1" r="1.3"/>
<circle cx="322.7" cy="296.2" r="1.3"/>
<circle cx="330.6" cy="293.0" r="1.3"/>
<circle cx="328.8" cy="289.9" r="1.3"/>
<circle cx="332.7" cy="294.2" r="1.3"/>
<circle cx="335.5" cy="288.6" r="1.3"/>
<circle cx="336.1" cy="288.6" r="1.3"/>
<circle cx="345.3" cy="286.0" r="1.3"/>
<circle cx="319.6" cy="301.8" r="1.3"/>
<circle cx="336.0" cy="286.9" r="1.3"/>
<circle cx="334.3" cy="294.3" r="1.3"/>
<circle cx="345.7" cy="278.0" r="1.3"/>
<circle cx="340.9" cy="286.7" r="1.3"/>
<circle cx="334.7" cy="282.2" r="1.3"/>
<circle cx="332.6" cy="289.6" r="1.3"/>
<circle cx="324.9" cy="299.6" r="1.3"/>
<circle cx="333.6" cy="288.4" r="1.3"/>
<circle cx="333.0" cy="287.7" r="1.3"/>
<circle cx="328.2" cy="293.2" r="1.3"/>
<circle cx="339.1" cy="284.2" r="1.3"/>
<circle cx="335.1" cy="284.5" r="1.3"/>
<circle cx="341.2" cy="282.0" r="1.3"/>
<circle cx="338.1" cy="283.7" r="1.3"/>
<circle cx="330.8" cy="291.8" r="1.3"/>
<circle cx="323.9" cy="301.7" r="1.3"/>
<circle cx="335.6" cy="287.8" r="1.3"/>
<circle cx="328.7" cy="296.7" r="1.3"/>
<circle cx="349.9" cy="279.5" r="1.3"/>
<circle cx="322.3" cy="295.8" r="1.3"/>
<circle cx="342.2" cy="282.1" r="1.3"/>
<circle cx="324.2" cy="292.9" r="1.3"/>
<circle cx="328.3" cy="293.0" r="1.3"/>
<circle cx="329.5" cy="292.2" r="1.3"/>
<circle cx="353.7" cy="272.3" r="1.3"/>
<circle cx="339.4" cy="285.8" r="1.3"/>
<circle cx="334.6" cy="291.6" r="1.3"/>
<circle cx="332.7" cy="289.2" r="1.3"/>
<circle cx="332.3" cy="290.0" r="1.3"/>
<circle cx="348.9" cy="281.8" r="1.3"/>
<circle cx="322.6" cy="295.8" r="1.3"/>
<circle cx="328.0" cy="295.2" r="1.3"/>
<circle cx="338.2" cy="288.9" r="1.3"/>
<circle cx="335.4" cy="282.9" r="1.3"/>
<circle cx="340.5" cy="285.5" r="1.3"/>
<circle cx="341.1" cy="280.5" r="1.3"/>
<circle cx="336.8" cy="285.3" r="1.3"/>
<circle cx="329.1" cy="293.3" r="1.3"/>
<circle cx="339.5" cy="282.8" r="1.3"/>
<circle cx="318.9" cy="294.0" r="1.3"/>
<circle cx="330.2" cy="294.6" r="1.3"/>
<circle cx="335.4" cy="281.9" r="1.3"/>
<circle cx="327.4" cy="294.6" r="1.3"/>
<circle cx="352.7" cy="280.7" r="1.3"/>
<circle cx="339.7" cy="285.9" r="1.3"/>
<circle cx="325.4" cy="293.8" r="1.3"/>
<circle cx="332.7" cy="288.0" r="1.3"/>
<circle cx="336.6" cy="286.3" r="1.3"/>
<circle cx="339.4" cy="289.8" r="1.3"/>
<circle cx="343.4" cy="284.1" r="1.3"/>
<circle cx="333.6" cy="285.3" r="1.3"/>
<circle cx="334.9" cy="290.1" r="1.3"/>
<circle cx="325.9" cy="297.6" r="1.3"/>
<circle cx="332.7" cy="291.0" r="1.3"/>
<circle cx="332.7" cy="286.6" r="1.3"/>
<circle cx="356.7" cy="269.7" r="1.3"/>
<circle cx="345.2" cy="279.9" r="1.3"/>
<circle cx="338.8" cy="283.6" r="1.3"/>
<circle cx="331.8" cy="293.0" r="1.3"/>
<circle cx="355.5" cy="271.7" r="1.3"/>
<circle cx="336.1" cy="290.4" r="1.3"/>
<circle cx="329.7" cy="293.9" r="1.3"/>
<circle cx="328.2" cy="294.6" r="1.3"/>
<circle cx="340.4" cy="288.5" r="1.3"/>
<circle cx="339.6" cy="281.8" r="1.3"/>
<circle cx="342.6" cy="279.9" r="1.3"/>
<circle cx="343.5" cy="287.5" r="1.3"/>
<circle cx="342.0" cy="282.1" r="1.3"/>
<circle cx="347.9" cy="280.4" r="1.3"/>
<circle cx="323.5" cy="295.3" r="1.3"/>
<circle cx="350.2" cy="277.3" r="1.3"/>
<circle cx="337.2" cy="286.0" r="1.3"/>
<circle cx="319.1" cy="298.0" r="1.3"/>
<circle cx="339.6" cy="286.0" r="1.3"/>
<circle cx="334.3" cy="283.1" r="1.3"/>
<circle cx="348.2" cy="282.0" r="1.3"/>
<circle cx="346.2" cy="285.1" r="1.3"/>
<circle cx="331.6" cy="289.2" r="1.3"/>
<circle cx="339.1" cy="290.6" r="1.3"/>
<circle cx="319.1" cy="298.6" r="1.3"/>
<circle cx="328.8" cy="294.0" r="1.3"/>
<circle cx="350.6" cy="277.0" r="1.3"/>
<circle cx="323.6" cy="296.2" r="1.3"/>
<circle cx="333.1" cy="285.5" r="1.3"/>
<circle cx="344.8" cy="280.2" r="1.3"/>
<circle cx="342.8" cy="279.2" r="1.3"/>
<circle cx="347.0" cy="275.8" r="1.3"/>
<circle cx="346.5" cy="274.9" r="1.3"/>
<circle cx="349.8" cy="277.3" r="1.3"/>
<circle cx="320.4" cy="297.7" r="1.3"/>
<circle cx="339.4" cy="282.6" r="1.3"/>
<circle cx="331.1" cy="291.8" r="1.3"/>
<circle cx="334.3" cy="280.5" r="1.3"/>
<circle cx="331.7" cy="291.8" r="1.3"/>
<circle cx="339.0" cy="288.8" r="1.3"/>
<circle cx="329.1" cy="298.9" r="1.3"/>
<circle cx="344.0" cy="283.4" r="1.3"/>
<circle cx="346.9" cy="283.6" r="1.3"/>
<circle cx="337.0" cy="285.3" r="1.3"/>
<circle cx="346.2" cy="282.3" r="1.3"/>
<circle cx="317.1" cy="298.2" r="1.3"/>
<circle cx="340.7" cy="285.0" r="1.3"/>
<circle cx="338.8" cy="287.8" r="1.3"/>
<circle cx="337.5" cy="291.4" r="1.3"/>
<circle cx="330.1" cy="290.7" r="1.3"/>
<circle cx="339.2" cy="287.8" r="1.3"/>
<circle cx="343.9" cy="287.2" r="1.3"/>
<circle cx="331.2" cy="294.1" r="1.3"/>
<circle cx="340.7" cy="281.5" r="1.3"/>
<circle cx="334.6" cy="294.5" r="1.3"/>
<circle cx="343.9" cy="281.1" r="1.3"/>
<circle cx="312.0" cy="302.5" r="1.3"/>
<circle cx="329.0" cy="292.7" r="1.3"/>
<circle cx="343.5" cy="283.8" r="1.3"/>
<circle cx="326.7" cy="291.2" r="1.3"/>
<circle cx="333.9" cy="287.9" r="1.3"/>
<circle cx="332.0" cy="288.9" r="1.3"/>
<circle cx="347.3" cy="280.5" r="1.3"/>
<circle cx="323.7" cy="299.1" r="1.3"/>
<circle cx="332.9" cy="286.3" r="1.3"/>
<circle cx="339.2" cy="287.1" r="1.3"/>
<circle cx="332.6" cy="291.9" r="1.3"/>
<circle cx="344.2" cy="279.5" r="1.3"/>
<circle cx="315.4" cy="296.8" r="1.3"/>
<circle cx="334.7" cy="292.1" r="1.3"/>
<circle cx="346.0" cy="285.6" r="1.3"/>
<circle cx="354.6" cy="275.4" r="1.3"/>
<circle cx="346.6" cy="275.8" r="1.3"/>
<circle cx="342.9" cy="284.4" r="1.3"/>
<circle cx="335.1" cy="287.2" r="1.3"/>
<circle cx="324.8" cy="295.6" r="1.3"/>
<circle cx="348.8" cy="278.0" r="1.3"/>
<circle cx="341.3" cy="282.2" r="1.3"/>
<circle cx="338.5" cy="283.2" r="1.3"/>
<circle cx="339.8" cy="284.6" r="1.3"/>
<circle cx="339.2" cy="283.9" r="1.3"/>
<circle cx="324.2" cy="294.9" r="1.3"/>
<circle cx="346.4" cy="286.0" r="1.3"/>
<circle cx="332.8" cy="292.1" r="1.3"/>
<circle cx="343.6" cy="283.9" r="1.3"/>
<circle cx="320.5" cy="298.9" r="1.3"/>
<circle cx="326.3" cy="297.2" r="1.3"/>
<circle cx="343.9" cy="284.5" r="1.3"/>
<circle cx="310.6" cy="305.9" r="1.3"/>
<circle cx="343.0" cy="279.2" r="1.3"/>
<circle cx="345.7" cy="281.5" r="1.3"/>
<circle cx="334.2" cy="287.1" r="1.3"/>
<circle cx="325.8" cy="293.6" r="1.3"/>
<circle cx="338.0" cy="287.0" r="1.3"/>
<circle cx="329.5" cy="290.6" r="1.3"/>
<circle cx="330.5" cy="289.2" r="1.3"/>
<circle cx="344.8" cy="281.1" r="1.3"/>
<circle cx="344.7" cy="278.3" r="1.3"/>
<circle cx="345.3" cy="281.5" r="1.3"/>
<circle cx="342.7" cy="283.0" r="1.3"/>
<circle cx="327.1" cy="296.7" r="1.3"/>
<circle cx="331.6" cy="290.3" r="1.3"/>
<circle cx="327.1" cy="294.2" r="1.3"/>
<circle cx="332.1" cy="291.2" r="1.3"/>
<circle cx="339.4" cy="283.5" r="1.3"/>
<circle cx="321.9" cy="298.2" r="1.3"/>
<circle cx="345.2" cy="283.9" r="1.3"/>
<circle cx="324.5" cy="296.9" r="1.3"/>
<circle cx="339.8" cy="286.1" r="1.3"/>
<circle cx="340.3" cy="284.0" r="1.3"/>
<circle cx="338.1" cy="289.1" r="1.3"/>
<circle cx="331.0" cy="287.4" r="1.3"/>
<circle cx="335.0" cy="289.0" r="1.3"/>
<circle cx="317.6" cy="298.8" r="1.3"/>
<circle cx="341.9" cy="283.4" r="1.3"/>
<circle cx="336.9" cy="283.6" r="1.3"/>
<circle cx="345.1" cy="287.3" r="1.3"/>
<circle cx="334.0" cy="287.1" r="1.3"/>
<circle cx="324.4" cy="297.7" r="1.3"/>
<circle cx="337.0" cy="284.8" r="1.3"/>
<circle cx="348.1" cy="282.2" r="1.3"/>
<circle cx="342.0" cy="278.4" r="1.3"/>
<circle cx="335.0" cy="290.2" r="1.3"/>
<circle cx="323.8" cy="298.2" r="1.3"/>
<circle cx="350.3" cy="281.7" r="1.3"/>
<circle cx="328.8" cy="290.8" r="1.3"/>
<circle cx="345.4" cy="284.7" r="1.3"/>
<circle cx="348.3" cy="283.5" r="1.3"/>
<circle cx="335.0" cy="287.3" r="1.3"/>
<circle cx="317.4" cy="301.9" r="1.3"/>
<circle cx="358.8" cy="270.8" r="1.3"/>
<circle cx="331.2" cy="292.7" r="1.3"/>
<circle cx="339.7" cy="281.2" r="1.3"/>
<circle cx="328.9" cy="289.8" r="1.3"/>
<circle cx="356.2" cy="271.7" r="1.3"/>
<circle cx="344.5" cy="288.1" r="1.3"/>
<circle cx="354.9" cy="280.2" r="1.3"/>
<circle cx="352.3" cy="272.6" r="1.3"/>
<circle cx="332.5" cy="288.2" r="1.3"/>
<circle cx="333.1" cy="296.8" r="1.3"/>
<circle cx="319.2" cy="300.2" r="1.3"/>
<circle cx="298.2" cy="311.5" r="1.3"/>
<circle cx="306.3" cy="313.9" r="1.3"/>
<circle cx="302.7" cy="309.4" r="1.3"/>
<circle cx="306.3" cy="311.2" r="1.3"/>
<circle cx="310.8" cy="312.1" r="1.3"/>
<circle cx="308.1" cy="304.8" r="1.3"/>
<circle cx="348.0" cy="262.6" r="1.3"/>
<circle cx="366.1" cy="265.3" r="1.3"/>
<circle cx="375.2" cy="267.1" r="1.3"/>
<circle cx="387.9" cy="270.4" r="1.3"/>
<circle cx="370.6" cy="267.7" r="1.3"/>
<circle cx="363.0" cy="267.3" r="1.3"/>
<circle cx="353.8" cy="268.6" r="1.3"/>
<circle cx="363.4" cy="284.9" r="1.3"/>
<circle cx="358.9" cy="286.7" r="1.3"/>
<circle cx="342.6" cy="300.3" r="1.3"/>
<circle cx="346.2" cy="271.7" r="1.3"/>
<circle cx="348.9" cy="273.7" r="1.3"/>
<circle cx="357.1" cy="273.1" r="1.3"/>
<circle cx="358.0" cy="278.6" r="1.3"/>
<circle cx="358.9" cy="281.3" r="1.3"/>
<circle cx="352.5" cy="274.0" r="1.3"/>
<circle cx="317.2" cy="294.9" r="1.3"/>
<circle cx="321.7" cy="306.6" r="1.3"/>
<circle cx="334.4" cy="297.6" r="1.3"/>
</g>
<rect x="271.20" y="207.70" width="39.20" height="14.60" fill="#fff" stroke="#5c5c5c" stroke-width="1"/>
<text x="294.90" y="217.40" font-size="5.6" font-weight="normal" text-anchor="middle" fill="#2a2a2a" textLength="25.80" lengthAdjust="spacingAndGlyphs" stroke="#2a2a2a" stroke-width="0.12">R2=0.82**</text>
<text x="357.20" y="370.07" font-size="9.975" font-weight="bold" text-anchor="middle" fill="#161616" textLength="129.00" lengthAdjust="spacingAndGlyphs" stroke="#161616" stroke-width="0.3">GCA based estimated hybrid</text>
<text x="355.90" y="383.17" font-size="9.975" font-weight="bold" text-anchor="middle" fill="#161616" textLength="106.40" lengthAdjust="spacingAndGlyphs" stroke="#161616" stroke-width="0.3">performance (scale 1-5)</text>
<text x="0" y="3.40" font-size="9.5" font-weight="bold" text-anchor="middle" fill="#161616" textLength="162.30" lengthAdjust="spacingAndGlyphs" stroke="#161616" stroke-width="0.2" transform="translate(236.80 272.15) rotate(-90)">True hybrid performance (scale 1-5)</text>
<rect x="497.10" y="203.40" width="186.70" height="139.20" fill="none" stroke="#5c5c5c" stroke-width="1"/>
<line x1="506.10" y1="342.60" x2="506.10" y2="346.10" stroke="#5c5c5c" stroke-width="1"/>
<text x="505.70" y="355.87" font-size="9.984" font-weight="normal" text-anchor="middle" fill="#161616" textLength="5.00" lengthAdjust="spacingAndGlyphs" stroke="#161616" stroke-width="0.5">0</text>
<line x1="545.10" y1="342.60" x2="545.10" y2="346.10" stroke="#5c5c5c" stroke-width="1"/>
<text x="544.70" y="355.87" font-size="9.984" font-weight="normal" text-anchor="middle" fill="#161616" textLength="5.00" lengthAdjust="spacingAndGlyphs" stroke="#161616" stroke-width="0.5">1</text>
<line x1="584.10" y1="342.60" x2="584.10" y2="346.10" stroke="#5c5c5c" stroke-width="1"/>
<text x="583.70" y="355.87" font-size="9.984" font-weight="normal" text-anchor="middle" fill="#161616" textLength="5.00" lengthAdjust="spacingAndGlyphs" stroke="#161616" stroke-width="0.5">2</text>
<line x1="623.10" y1="342.60" x2="623.10" y2="346.10" stroke="#5c5c5c" stroke-width="1"/>
<text x="622.70" y="355.87" font-size="9.984" font-weight="normal" text-anchor="middle" fill="#161616" textLength="5.00" lengthAdjust="spacingAndGlyphs" stroke="#161616" stroke-width="0.5">3</text>
<line x1="662.10" y1="342.60" x2="662.10" y2="346.10" stroke="#5c5c5c" stroke-width="1"/>
<text x="661.70" y="355.87" font-size="9.984" font-weight="normal" text-anchor="middle" fill="#161616" textLength="5.00" lengthAdjust="spacingAndGlyphs" stroke="#161616" stroke-width="0.5">4</text>
<line x1="493.60" y1="339.70" x2="497.10" y2="339.70" stroke="#5c5c5c" stroke-width="1"/>
<text x="0" y="3.39" font-size="9.464" font-weight="normal" text-anchor="middle" fill="#161616" textLength="4.63" lengthAdjust="spacingAndGlyphs" stroke="#161616" stroke-width="0.3" transform="translate(486.70 339.70) rotate(-90)">0</text>
<line x1="493.60" y1="306.18" x2="497.10" y2="306.18" stroke="#5c5c5c" stroke-width="1"/>
<text x="0" y="3.39" font-size="9.464" font-weight="normal" text-anchor="middle" fill="#161616" textLength="4.63" lengthAdjust="spacingAndGlyphs" stroke="#161616" stroke-width="0.3" transform="translate(486.70 306.18) rotate(-90)">1</text>
<line x1="493.60" y1="272.66" x2="497.10" y2="272.66" stroke="#5c5c5c" stroke-width="1"/>
<text x="0" y="3.39" font-size="9.464" font-weight="normal" text-anchor="middle" fill="#161616" textLength="4.63" lengthAdjust="spacingAndGlyphs" stroke="#161616" stroke-width="0.3" transform="translate(486.70 272.66) rotate(-90)">2</text>
<line x1="493.60" y1="239.14" x2="497.10" y2="239.14" stroke="#5c5c5c" stroke-width="1"/>
<text x="0" y="3.39" font-size="9.464" font-weight="normal" text-anchor="middle" fill="#161616" textLength="4.63" lengthAdjust="spacingAndGlyphs" stroke="#161616" stroke-width="0.3" transform="translate(486.70 239.14) rotate(-90)">3</text>
<line x1="493.60" y1="205.62" x2="497.10" y2="205.62" stroke="#5c5c5c" stroke-width="1"/>
<text x="0" y="3.39" font-size="9.464" font-weight="normal" text-anchor="middle" fill="#161616" textLength="4.63" lengthAdjust="spacingAndGlyphs" stroke="#161616" stroke-width="0.3" transform="translate(486.70 205.62) rotate(-90)">4</text>
<clipPath id="c3"><rect x="497.1" y="203.4" width="186.69999999999993" height="139.20000000000002"/></clipPath><g clip-path="url(#c3)" fill="#111">
<circle cx="639.1" cy="208.2" r="1.4"/>
<circle cx="652.5" cy="231.4" r="1.4"/>
<circle cx="658.7" cy="236.0" r="1.4"/>
<circle cx="672.5" cy="245.4" r="1.4"/>
<circle cx="677.5" cy="246.8" r="1.4"/>
<circle cx="656.2" cy="251.1" r="1.4"/>
<circle cx="637.2" cy="253.4" r="1.4"/>
<circle cx="632.9" cy="236.6" r="1.4"/>
<circle cx="641.3" cy="237.0" r="1.4"/>
<circle cx="638.9" cy="239.9" r="1.4"/>
<circle cx="624.5" cy="237.0" r="1.4"/>
<circle cx="626.8" cy="238.4" r="1.4"/>
<circle cx="624.5" cy="247.4" r="1.4"/>
<circle cx="625.8" cy="251.5" r="1.4"/>
<circle cx="628.6" cy="250.9" r="1.4"/>
<circle cx="618.0" cy="243.1" r="1.4"/>
<circle cx="617.6" cy="247.2" r="1.4"/>
<circle cx="612.0" cy="243.1" r="1.4"/>
<circle cx="618.9" cy="254.9" r="1.4"/>
<circle cx="615.2" cy="257.5" r="1.4"/>
<circle cx="617.1" cy="258.6" r="1.4"/>
<circle cx="618.4" cy="262.7" r="1.4"/>
<circle cx="610.1" cy="250.6" r="1.4"/>
<circle cx="610.5" cy="253.0" r="1.4"/>
<circle cx="604.0" cy="253.4" r="1.4"/>
<circle cx="604.0" cy="258.6" r="1.4"/>
<circle cx="606.8" cy="261.4" r="1.4"/>
<circle cx="608.7" cy="264.9" r="1.4"/>
<circle cx="610.1" cy="267.9" r="1.4"/>
<circle cx="612.4" cy="268.7" r="1.4"/>
<circle cx="609.6" cy="271.1" r="1.4"/>
<circle cx="616.1" cy="273.0" r="1.4"/>
<circle cx="621.3" cy="272.4" r="1.4"/>
<circle cx="602.1" cy="245.5" r="1.4"/>
<circle cx="604.6" cy="245.9" r="1.4"/>
<circle cx="601.2" cy="247.8" r="1.4"/>
<circle cx="597.5" cy="245.9" r="1.4"/>
<circle cx="598.4" cy="247.4" r="1.4"/>
<circle cx="594.7" cy="245.5" r="1.4"/>
<circle cx="591.9" cy="241.6" r="1.4"/>
<circle cx="598.4" cy="251.1" r="1.4"/>
<circle cx="596.5" cy="261.2" r="1.4"/>
<circle cx="600.3" cy="262.7" r="1.4"/>
<circle cx="595.6" cy="263.6" r="1.4"/>
<circle cx="603.1" cy="266.1" r="1.4"/>
<circle cx="598.4" cy="268.3" r="1.4"/>
<circle cx="602.1" cy="271.1" r="1.4"/>
<circle cx="590.9" cy="263.6" r="1.4"/>
<circle cx="611.1" cy="309.7" r="1.4"/>
<circle cx="618.0" cy="287.9" r="1.4"/>
<circle cx="610.9" cy="286.4" r="1.4"/>
<circle cx="608.1" cy="282.8" r="1.4"/>
<circle cx="603.4" cy="288.4" r="1.4"/>
<circle cx="606.8" cy="290.1" r="1.4"/>
<circle cx="596.5" cy="289.7" r="1.4"/>
<circle cx="591.9" cy="289.7" r="1.4"/>
<circle cx="595.6" cy="286.9" r="1.4"/>
<circle cx="597.8" cy="283.8" r="1.4"/>
<circle cx="595.6" cy="279.8" r="1.4"/>
<circle cx="601.2" cy="276.1" r="1.4"/>
<circle cx="602.1" cy="274.8" r="1.4"/>
<circle cx="591.9" cy="276.1" r="1.4"/>
<circle cx="592.8" cy="273.9" r="1.4"/>
<circle cx="595.6" cy="273.5" r="1.4"/>
<circle cx="616.1" cy="273.5" r="1.4"/>
<circle cx="621.3" cy="272.6" r="1.4"/>
<circle cx="591.2" cy="241.6" r="1.4"/>
<circle cx="568.5" cy="246.5" r="1.4"/>
<circle cx="555.8" cy="250.6" r="1.4"/>
<circle cx="569.4" cy="252.8" r="1.4"/>
<circle cx="561.4" cy="257.7" r="1.4"/>
<circle cx="581.0" cy="255.8" r="1.4"/>
<circle cx="588.8" cy="257.7" r="1.4"/>
<circle cx="569.8" cy="260.8" r="1.4"/>
<circle cx="582.4" cy="261.4" r="1.4"/>
<circle cx="590.3" cy="264.0" r="1.4"/>
<circle cx="541.2" cy="266.4" r="1.4"/>
<circle cx="567.5" cy="265.5" r="1.4"/>
<circle cx="565.1" cy="267.4" r="1.4"/>
<circle cx="563.2" cy="268.3" r="1.4"/>
<circle cx="553.0" cy="269.2" r="1.4"/>
<circle cx="557.6" cy="269.6" r="1.4"/>
<circle cx="554.8" cy="271.7" r="1.4"/>
<circle cx="561.4" cy="273.0" r="1.4"/>
<circle cx="566.4" cy="272.4" r="1.4"/>
<circle cx="581.0" cy="271.1" r="1.4"/>
<circle cx="504.0" cy="337.2" r="1.4"/>
<circle cx="511.7" cy="334.4" r="1.4"/>
<circle cx="516.1" cy="331.4" r="1.4"/>
<circle cx="520.3" cy="329.8" r="1.4"/>
<circle cx="523.4" cy="336.5" r="1.4"/>
<circle cx="528.2" cy="333.5" r="1.4"/>
<circle cx="542.7" cy="327.9" r="1.4"/>
<circle cx="526.8" cy="327.4" r="1.4"/>
<circle cx="527.3" cy="325.6" r="1.4"/>
<circle cx="526.6" cy="323.7" r="1.4"/>
<circle cx="522.0" cy="323.1" r="1.4"/>
<circle cx="517.0" cy="321.8" r="1.4"/>
<circle cx="518.6" cy="320.9" r="1.4"/>
<circle cx="513.3" cy="321.4" r="1.4"/>
<circle cx="509.1" cy="321.4" r="1.4"/>
<circle cx="507.3" cy="320.9" r="1.4"/>
<circle cx="510.0" cy="319.0" r="1.4"/>
<circle cx="512.4" cy="317.0" r="1.4"/>
<circle cx="517.5" cy="317.6" r="1.4"/>
<circle cx="520.3" cy="317.2" r="1.4"/>
<circle cx="522.6" cy="316.7" r="1.4"/>
<circle cx="524.0" cy="320.4" r="1.4"/>
<circle cx="527.3" cy="320.4" r="1.4"/>
<circle cx="528.2" cy="321.4" r="1.4"/>
<circle cx="513.8" cy="312.5" r="1.4"/>
<circle cx="519.4" cy="311.1" r="1.4"/>
<circle cx="521.7" cy="313.5" r="1.4"/>
<circle cx="523.6" cy="314.4" r="1.4"/>
<circle cx="525.0" cy="315.3" r="1.4"/>
<circle cx="527.3" cy="316.3" r="1.4"/>
<circle cx="529.2" cy="315.3" r="1.4"/>
<circle cx="531.0" cy="315.8" r="1.4"/>
<circle cx="531.9" cy="314.9" r="1.4"/>
<circle cx="526.8" cy="310.2" r="1.4"/>
<circle cx="528.2" cy="311.6" r="1.4"/>
<circle cx="529.6" cy="310.2" r="1.4"/>
<circle cx="523.1" cy="308.3" r="1.4"/>
<circle cx="530.1" cy="306.9" r="1.4"/>
<circle cx="532.4" cy="307.4" r="1.4"/>
<circle cx="534.3" cy="308.3" r="1.4"/>
<circle cx="536.1" cy="309.7" r="1.4"/>
<circle cx="537.1" cy="311.1" r="1.4"/>
<circle cx="535.7" cy="312.5" r="1.4"/>
<circle cx="538.5" cy="308.8" r="1.4"/>
<circle cx="540.3" cy="310.2" r="1.4"/>
<circle cx="541.3" cy="312.5" r="1.4"/>
<circle cx="542.7" cy="311.1" r="1.4"/>
<circle cx="541.7" cy="307.9" r="1.4"/>
<circle cx="544.1" cy="313.5" r="1.4"/>
<circle cx="544.5" cy="317.2" r="1.4"/>
<circle cx="538.0" cy="306.5" r="1.4"/>
<circle cx="539.9" cy="306.9" r="1.4"/>
<circle cx="543.6" cy="306.5" r="1.4"/>
<circle cx="530.4" cy="278.8" r="1.4"/>
<circle cx="528.7" cy="290.0" r="1.4"/>
<circle cx="537.5" cy="284.1" r="1.4"/>
<circle cx="537.3" cy="286.4" r="1.4"/>
<circle cx="540.1" cy="286.0" r="1.4"/>
<circle cx="540.8" cy="289.2" r="1.4"/>
<circle cx="542.2" cy="290.2" r="1.4"/>
<circle cx="544.5" cy="286.4" r="1.4"/>
<circle cx="542.7" cy="294.4" r="1.4"/>
<circle cx="544.5" cy="292.0" r="1.4"/>
<circle cx="544.5" cy="297.6" r="1.4"/>
<circle cx="540.6" cy="299.3" r="1.4"/>
<circle cx="535.2" cy="299.3" r="1.4"/>
<circle cx="531.3" cy="297.3" r="1.4"/>
<circle cx="531.0" cy="298.6" r="1.4"/>
<circle cx="523.3" cy="299.0" r="1.4"/>
<circle cx="521.0" cy="300.9" r="1.4"/>
<circle cx="535.7" cy="302.3" r="1.4"/>
<circle cx="534.3" cy="304.2" r="1.4"/>
<circle cx="532.9" cy="305.1" r="1.4"/>
<circle cx="530.6" cy="306.0" r="1.4"/>
<circle cx="536.1" cy="305.6" r="1.4"/>
<circle cx="538.0" cy="306.0" r="1.4"/>
<circle cx="544.1" cy="302.3" r="1.4"/>
<circle cx="544.5" cy="304.2" r="1.4"/>
<circle cx="574.2" cy="326.0" r="1.4"/>
<circle cx="553.2" cy="319.7" r="1.4"/>
<circle cx="545.7" cy="317.4" r="1.4"/>
<circle cx="549.4" cy="312.3" r="1.4"/>
<circle cx="557.3" cy="311.9" r="1.4"/>
<circle cx="563.6" cy="313.5" r="1.4"/>
<circle cx="566.2" cy="311.6" r="1.4"/>
<circle cx="555.1" cy="308.6" r="1.4"/>
<circle cx="549.2" cy="307.4" r="1.4"/>
<circle cx="545.9" cy="307.9" r="1.4"/>
<circle cx="560.4" cy="306.5" r="1.4"/>
<circle cx="584.0" cy="306.3" r="1.4"/>
<circle cx="549.7" cy="273.8" r="1.4"/>
<circle cx="555.0" cy="272.2" r="1.4"/>
<circle cx="554.9" cy="275.2" r="1.4"/>
<circle cx="561.1" cy="272.9" r="1.4"/>
<circle cx="566.0" cy="272.2" r="1.4"/>
<circle cx="552.7" cy="278.1" r="1.4"/>
<circle cx="557.6" cy="278.9" r="1.4"/>
<circle cx="562.9" cy="279.0" r="1.4"/>
<circle cx="565.0" cy="276.0" r="1.4"/>
<circle cx="566.9" cy="275.3" r="1.4"/>
<circle cx="567.1" cy="277.4" r="1.4"/>
<circle cx="568.3" cy="274.6" r="1.4"/>
<circle cx="556.0" cy="283.4" r="1.4"/>
<circle cx="560.1" cy="282.0" r="1.4"/>
<circle cx="561.3" cy="281.6" r="1.4"/>
<circle cx="560.4" cy="283.4" r="1.4"/>
<circle cx="562.0" cy="284.1" r="1.4"/>
<circle cx="563.6" cy="285.3" r="1.4"/>
<circle cx="565.5" cy="283.2" r="1.4"/>
<circle cx="566.9" cy="281.1" r="1.4"/>
<circle cx="567.8" cy="282.5" r="1.4"/>
<circle cx="555.5" cy="287.4" r="1.4"/>
<circle cx="556.2" cy="288.1" r="1.4"/>
<circle cx="545.7" cy="286.0" r="1.4"/>
<circle cx="546.9" cy="286.9" r="1.4"/>
<circle cx="548.7" cy="288.1" r="1.4"/>
<circle cx="566.4" cy="287.8" r="1.4"/>
<circle cx="568.1" cy="286.9" r="1.4"/>
<circle cx="568.3" cy="288.8" r="1.4"/>
<circle cx="564.6" cy="289.2" r="1.4"/>
<circle cx="571.8" cy="276.7" r="1.4"/>
<circle cx="573.9" cy="281.1" r="1.4"/>
<circle cx="577.2" cy="274.6" r="1.4"/>
<circle cx="576.7" cy="276.7" r="1.4"/>
<circle cx="576.9" cy="278.8" r="1.4"/>
<circle cx="579.0" cy="274.8" r="1.4"/>
<circle cx="580.0" cy="276.4" r="1.4"/>
<circle cx="580.6" cy="278.1" r="1.4"/>
<circle cx="582.5" cy="277.1" r="1.4"/>
<circle cx="584.1" cy="273.9" r="1.4"/>
<circle cx="583.2" cy="278.1" r="1.4"/>
<circle cx="583.9" cy="279.9" r="1.4"/>
<circle cx="584.6" cy="281.6" r="1.4"/>
<circle cx="585.3" cy="283.9" r="1.4"/>
<circle cx="586.7" cy="281.3" r="1.4"/>
<circle cx="589.0" cy="283.2" r="1.4"/>
<circle cx="585.8" cy="277.1" r="1.4"/>
<circle cx="587.4" cy="276.4" r="1.4"/>
<circle cx="588.1" cy="272.9" r="1.4"/>
<circle cx="589.5" cy="272.5" r="1.4"/>
<circle cx="591.8" cy="273.4" r="1.4"/>
<circle cx="592.3" cy="275.7" r="1.4"/>
<circle cx="592.5" cy="276.9" r="1.4"/>
<circle cx="571.8" cy="283.9" r="1.4"/>
<circle cx="573.0" cy="284.6" r="1.4"/>
<circle cx="571.6" cy="285.7" r="1.4"/>
<circle cx="573.7" cy="286.4" r="1.4"/>
<circle cx="576.0" cy="285.7" r="1.4"/>
<circle cx="577.4" cy="283.6" r="1.4"/>
<circle cx="578.8" cy="284.1" r="1.4"/>
<circle cx="580.4" cy="283.6" r="1.4"/>
<circle cx="578.3" cy="286.0" r="1.4"/>
<circle cx="579.7" cy="286.4" r="1.4"/>
<circle cx="569.7" cy="287.4" r="1.4"/>
<circle cx="570.4" cy="288.8" r="1.4"/>
<circle cx="592.1" cy="288.8" r="1.4"/>
<circle cx="575.5" cy="287.8" r="1.4"/>
<circle cx="577.4" cy="288.1" r="1.4"/>
<circle cx="575.3" cy="303.4" r="1.4"/>
<circle cx="583.8" cy="305.4" r="1.4"/>
<circle cx="583.4" cy="300.5" r="1.4"/>
<circle cx="579.3" cy="297.9" r="1.4"/>
<circle cx="580.6" cy="297.9" r="1.4"/>
<circle cx="577.4" cy="295.8" r="1.4"/>
<circle cx="574.8" cy="297.0" r="1.4"/>
<circle cx="578.1" cy="292.8" r="1.4"/>
<circle cx="578.6" cy="290.9" r="1.4"/>
<circle cx="574.6" cy="292.8" r="1.4"/>
<circle cx="573.2" cy="291.9" r="1.4"/>
<circle cx="571.3" cy="290.9" r="1.4"/>
<circle cx="569.9" cy="290.2" r="1.4"/>
<circle cx="571.1" cy="294.2" r="1.4"/>
<circle cx="569.7" cy="294.7" r="1.4"/>
<circle cx="569.5" cy="297.0" r="1.4"/>
<circle cx="571.6" cy="297.7" r="1.4"/>
<circle cx="570.9" cy="298.9" r="1.4"/>
<circle cx="572.3" cy="295.4" r="1.4"/>
<circle cx="576.0" cy="290.5" r="1.4"/>
<circle cx="573.7" cy="294.7" r="1.4"/>
<circle cx="559.9" cy="303.3" r="1.4"/>
<circle cx="564.1" cy="307.0" r="1.4"/>
<circle cx="562.8" cy="306.6" r="1.4"/>
<circle cx="545.7" cy="298.4" r="1.4"/>
<circle cx="567.6" cy="301.7" r="1.4"/>
<circle cx="566.6" cy="292.0" r="1.4"/>
<circle cx="556.3" cy="294.4" r="1.4"/>
<circle cx="558.0" cy="300.3" r="1.4"/>
<circle cx="545.3" cy="293.9" r="1.4"/>
<circle cx="551.7" cy="306.5" r="1.4"/>
<circle cx="563.4" cy="292.9" r="1.4"/>
<circle cx="564.1" cy="292.5" r="1.4"/>
<circle cx="559.8" cy="292.3" r="1.4"/>
<circle cx="545.0" cy="305.7" r="1.4"/>
<circle cx="568.6" cy="305.7" r="1.4"/>
<circle cx="551.9" cy="307.3" r="1.4"/>
<circle cx="557.9" cy="302.2" r="1.4"/>
<circle cx="549.9" cy="306.9" r="1.4"/>
<circle cx="561.6" cy="307.4" r="1.4"/>
<circle cx="566.4" cy="295.4" r="1.4"/>
<circle cx="552.2" cy="300.8" r="1.4"/>
<circle cx="545.1" cy="302.2" r="1.4"/>
<circle cx="553.1" cy="295.6" r="1.4"/>
<circle cx="564.6" cy="298.6" r="1.4"/>
<circle cx="552.6" cy="298.7" r="1.4"/>
<circle cx="561.9" cy="291.0" r="1.4"/>
<circle cx="568.4" cy="290.4" r="1.4"/>
<circle cx="563.0" cy="305.2" r="1.4"/>
<circle cx="545.4" cy="304.2" r="1.4"/>
<circle cx="553.8" cy="300.4" r="1.4"/>
<circle cx="545.2" cy="290.8" r="1.4"/>
<circle cx="549.3" cy="307.2" r="1.4"/>
<circle cx="549.7" cy="303.6" r="1.4"/>
<circle cx="567.3" cy="306.9" r="1.4"/>
<circle cx="553.3" cy="296.4" r="1.4"/>
<circle cx="557.6" cy="304.0" r="1.4"/>
<circle cx="547.6" cy="303.5" r="1.4"/>
<circle cx="564.1" cy="305.5" r="1.4"/>
<circle cx="545.9" cy="307.0" r="1.4"/>
<circle cx="547.2" cy="296.1" r="1.4"/>
</g>
<rect x="683.3" y="203" width="1.7" height="140.2" fill="#3c3c3c"/>
<rect x="506.60" y="205.40" width="39.10" height="14.70" fill="#fff" stroke="#5c5c5c" stroke-width="1"/>
<text x="530.00" y="215.50" font-size="5.6" font-weight="normal" text-anchor="middle" fill="#2a2a2a" textLength="25.80" lengthAdjust="spacingAndGlyphs" stroke="#2a2a2a" stroke-width="0.12">R2=0.67**</text>
<text x="587.25" y="370.07" font-size="9.975" font-weight="bold" text-anchor="middle" fill="#161616" textLength="129.70" lengthAdjust="spacingAndGlyphs" stroke="#161616" stroke-width="0.3" word-spacing="-1.0">GCA based estimated hybrid</text>
<text x="586.95" y="382.67" font-size="9.975" font-weight="bold" text-anchor="middle" fill="#161616" textLength="84.10" lengthAdjust="spacingAndGlyphs" stroke="#161616" stroke-width="0.3" word-spacing="-1.0">performance (t/ha)</text>
<text x="0" y="3.65" font-size="10.2" font-weight="bold" text-anchor="middle" fill="#161616" textLength="139.70" lengthAdjust="spacingAndGlyphs" stroke="#161616" stroke-width="0.2" transform="translate(470.70 272.35) rotate(-90)">True hybrid performance (t/ha)</text>
</svg></body></html>
